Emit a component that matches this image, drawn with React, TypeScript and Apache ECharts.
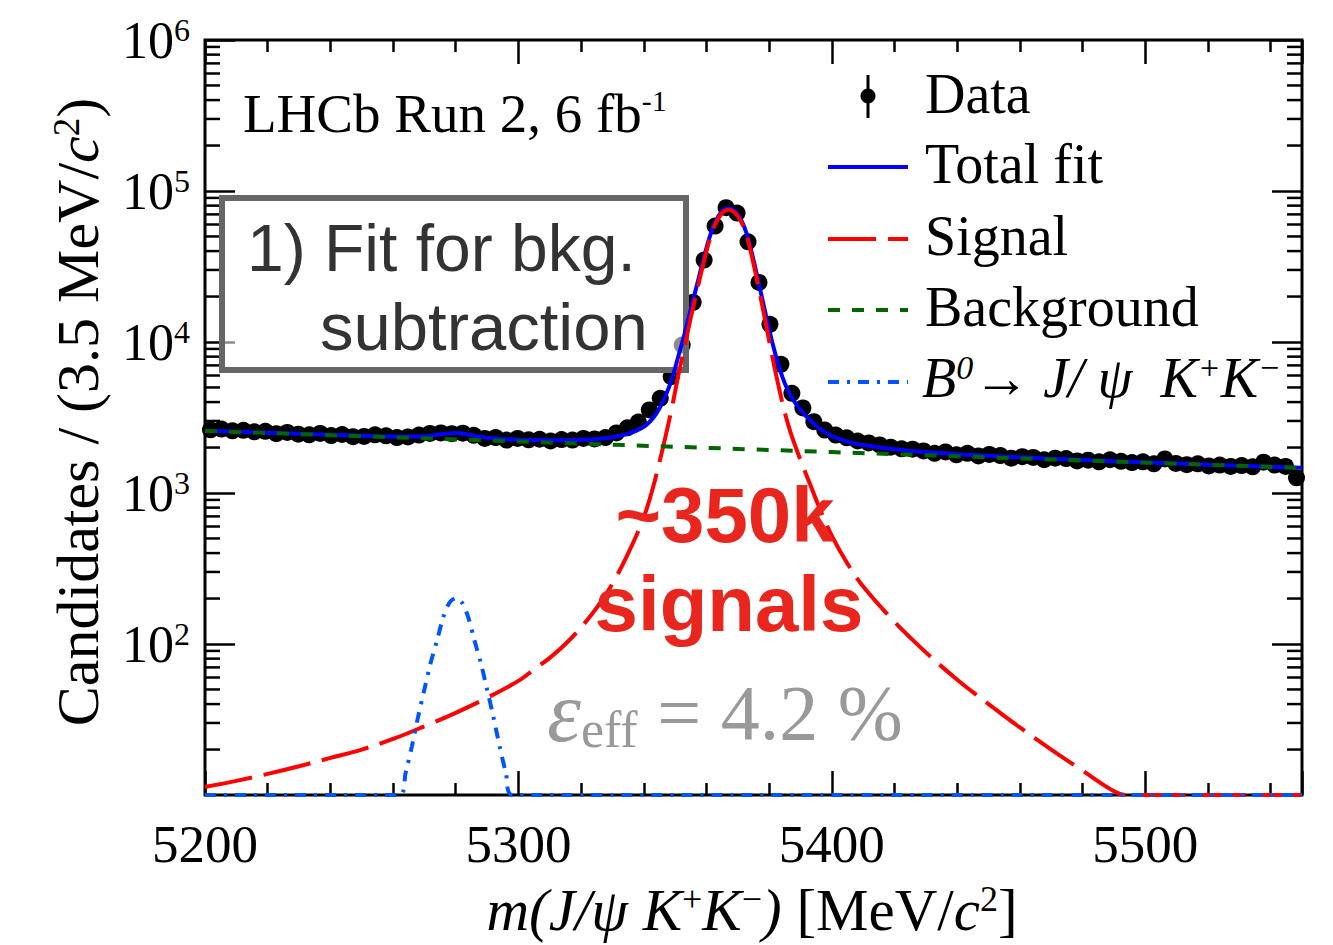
import React, { useEffect, useRef } from "react";
import * as echarts from "echarts";

// ---------- axis ranges / ticks ----------
const X_MIN = 5200;
const X_MAX = 5550;
const X_TICKS = [5200, 5300, 5400, 5500];
const Y_MIN = 10;
const Y_MAX = 1e6;
const Y_MINOR = [
  20, 30, 40, 50, 60, 70, 80, 90,
  200, 300, 400, 500, 600, 700, 800, 900,
  2000, 3000, 4000, 5000, 6000, 7000, 8000, 9000,
  20000, 30000, 40000, 50000, 60000, 70000, 80000, 90000,
  200000, 300000, 400000, 500000, 600000, 700000, 800000, 900000,
];

// ---------- data histogram (3.5 MeV bins from 5200) ----------
const BIN_LOW = 5200;
const BIN_WIDTH = 3.5;
const dataCounts = [
  2620, 2650, 2580, 2600, 2540, 2560, 2470, 2520, 2450, 2430,
  2480, 2400, 2440, 2360, 2370, 2430, 2390, 2330, 2350, 2420,
  2480, 2500, 2470, 2490, 2410, 2300, 2330, 2240, 2300, 2250,
  2270, 2210, 2260, 2240, 2300, 2280, 2330, 2500, 2700, 2950,
  3550, 4240, 5890, 9550, 18300, 34900, 58600, 77500, 71400, 46100,
  24800, 13100, 7110, 4570, 3660, 2966, 2612, 2420, 2320, 2210,
  2145, 2080, 2010, 1960, 1950, 1900, 1830, 1870, 1790, 1830,
  1760, 1800, 1770, 1700, 1740, 1720, 1660, 1700, 1690, 1630,
  1650, 1610, 1660, 1620, 1590, 1610, 1560, 1680, 1570, 1540,
  1560, 1510, 1530, 1500, 1520, 1490, 1600, 1530, 1500, 1260,
];

// ---------- fit curves (sampled) ----------
const totMass = [
  5200, 5210, 5220, 5230, 5240, 5250, 5260, 5264, 5268, 5272, 5276, 5280, 5284, 5288, 5292, 5296,
  5300, 5305, 5310, 5315, 5320, 5325, 5330, 5335, 5340, 5343, 5345, 5347, 5349, 5351, 5353, 5355,
  5357, 5359, 5361, 5363, 5365, 5367, 5369, 5371, 5373, 5375, 5377, 5379, 5381, 5383, 5385, 5387,
  5390, 5393, 5396, 5400, 5405, 5410, 5420, 5430, 5440, 5450, 5460, 5470, 5480, 5490, 5500, 5510,
  5520, 5530, 5540, 5550,
];
const totFit = [
  2587, 2547, 2509, 2471, 2433, 2397, 2363, 2364, 2370, 2399, 2462, 2501, 2439, 2353, 2303, 2272,
  2250, 2243, 2239, 2240, 2252, 2280, 2340, 2470, 2746, 3146, 3639, 4434, 5728, 8021, 11314, 16507,
  24000, 34994, 49488, 63481, 73475, 76968, 73962, 64956, 50950, 34943, 22937, 14931, 9925, 7019, 5312, 4356,
  3547, 3038, 2679, 2386, 2191, 2077, 1947, 1866, 1808, 1762, 1722, 1687, 1656, 1625, 1596, 1568,
  1541, 1516, 1490, 1467,
];

const sigMass = [
  5200, 5210, 5220, 5230, 5240, 5250, 5260, 5270, 5280, 5290, 5300, 5305, 5310, 5315, 5320, 5325,
  5330, 5335, 5340, 5343, 5345, 5347, 5349, 5351, 5353, 5355, 5357, 5359, 5361, 5363, 5365, 5367,
  5369, 5371, 5373, 5375, 5377, 5379, 5381, 5383, 5385, 5387, 5390, 5393, 5396, 5400, 5405, 5410,
  5420, 5430, 5440, 5450, 5460, 5470, 5480, 5490, 5494, 5550,
];
const sigFit = [
  11.3, 12.4, 13.8, 15.5, 17.6, 20, 23.5, 28.5, 35, 44, 57, 68, 81, 100, 129, 174,
  251, 398, 690, 1100, 1600, 2400, 3700, 6000, 9300, 14500, 22000, 33000, 47500, 61500, 71500, 75000,
  72000, 63000, 49000, 33000, 21000, 13000, 8000, 5100, 3400, 2450, 1650, 1150, 800, 520, 340, 240,
  140, 88, 58, 40, 28, 20, 14.5, 10.6, 10, 10,
];

const bkgMass = [5200, 5250, 5300, 5350, 5400, 5450, 5500, 5550];
const bkgFit = [2576, 2377, 2193, 2023, 1866, 1722, 1589, 1466];

const b0Mass = [
  5200, 5262, 5264, 5266, 5268, 5270, 5272, 5274, 5276, 5278, 5280,
  5282, 5284, 5286, 5288, 5290, 5292, 5294, 5296, 5298, 5550,
];
const b0Fit = [
  10, 10, 14, 21, 33, 50, 75, 105, 150, 188, 201,
  188, 150, 105, 75, 50, 33, 21, 14, 10, 10,
];

const SERIF = '"Liberation Serif", "Times New Roman", "DejaVu Serif", serif';
const SANS = '"Liberation Sans", Arial, Helvetica, sans-serif';

const zip = (xs: number[], ys: number[]) => xs.map((x, i) => [x, ys[i]]);

export default function App() {
  const ref = useRef<HTMLDivElement>(null);

  useEffect(() => {
    if (!ref.current) return;
    const chart = echarts.init(ref.current, undefined, { renderer: "svg" });

    const tickLine = { color: "#000", width: 2.5 };

    const option: any = {
      animation: false,
      backgroundColor: "#ffffff",
      grid: {
        left: 205,
        right: 31,
        top: 40,
        bottom: 150,
        show: true,
        borderColor: "#000",
        borderWidth: 3,
        backgroundColor: "transparent",
      },
      xAxis: [
        {
          type: "value",
          min: X_MIN,
          max: X_MAX,
          interval: 100,
          position: "bottom",
          axisLine: { show: false },
          splitLine: { show: false },
          axisTick: { show: true, inside: true, length: 24, lineStyle: tickLine },
          minorTick: { show: true, splitNumber: 5, length: 12, lineStyle: tickLine },
          axisLabel: {
            show: true,
            margin: 22,
            fontSize: 53,
            fontFamily: SERIF,
            color: "#000",
            showMaxLabel: false,
            formatter: (v: number) => (X_TICKS.includes(v) ? String(v) : ""),
          },
        },
        {
          type: "value",
          min: X_MIN,
          max: X_MAX,
          interval: 100,
          position: "top",
          axisLine: { show: false },
          splitLine: { show: false },
          axisTick: { show: true, inside: true, length: 24, lineStyle: tickLine },
          minorTick: { show: true, splitNumber: 5, length: 12, lineStyle: tickLine },
          axisLabel: { show: false },
        },
      ],
      yAxis: [
        {
          type: "log",
          logBase: 10,
          min: Y_MIN,
          max: Y_MAX,
          position: "left",
          axisLine: { show: false },
          splitLine: { show: false },
          axisTick: { show: true, inside: true, length: 30, lineStyle: tickLine },
          axisLabel: {
            show: true,
            margin: 15,
            showMinLabel: false,
            formatter: (v: number) => `{b|10}{s|${Math.round(Math.log10(v))}}`,
            rich: {
              b: { fontSize: 52, fontFamily: SERIF, color: "#000" },
              s: { fontSize: 32, fontFamily: SERIF, color: "#000", verticalAlign: "top" },
            },
          },
        },
        {
          type: "log",
          logBase: 10,
          min: Y_MIN,
          max: Y_MAX,
          position: "right",
          axisLine: { show: false },
          splitLine: { show: false },
          axisTick: { show: true, inside: true, length: 30, lineStyle: tickLine },
          axisLabel: { show: false },
        },
      ],
      series: [
        {
          name: "Data",
          type: "scatter",
          data: dataCounts.map((c, i) => [BIN_LOW + BIN_WIDTH * (i + 0.5), c]),
          symbol: "circle",
          symbolSize: 17,
          itemStyle: { color: "#000", opacity: 1 },
          z: 2,
          silent: true,
        },
        {
          name: "Total fit",
          type: "line",
          data: zip(totMass, totFit),
          showSymbol: false,
          smooth: 0.35,
          lineStyle: { color: "#0000ff", width: 4 },
          z: 4,
          silent: true,
        },
        {
          name: "Signal",
          type: "line",
          data: zip(sigMass, sigFit),
          showSymbol: false,
          smooth: 0.35,
          lineStyle: { color: "#ff0000", width: 4, type: [48, 12] },
          z: 5,
          silent: true,
        },
        {
          name: "Background",
          type: "line",
          data: zip(bkgMass, bkgFit),
          showSymbol: false,
          lineStyle: { color: "#006400", width: 4, type: [12, 12] },
          z: 6,
          silent: true,
        },
        {
          name: "B0",
          type: "line",
          data: zip(b0Mass, b0Fit),
          showSymbol: false,
          smooth: 0.3,
          lineStyle: { color: "#0055ff", width: 4, type: [11, 8, 3, 8] },
          z: 7,
          silent: true,
        },
        {
          name: "minor ticks",
          type: "custom",
          coordinateSystem: "cartesian2d",
          silent: true,
          z: 1,
          data: Y_MINOR.map((v) => [X_MIN, v]),
          renderItem: (_params: any, api: any) => {
            const v = api.value(1);
            const pL = api.coord([X_MIN, v]);
            const pR = api.coord([X_MAX, v]);
            return {
              type: "group",
              children: [
                {
                  type: "line",
                  shape: { x1: pL[0], y1: pL[1], x2: pL[0] + 15, y2: pL[1] },
                  style: { stroke: "#000", lineWidth: 2.5 },
                },
                {
                  type: "line",
                  shape: { x1: pR[0] - 15, y1: pR[1], x2: pR[0], y2: pR[1] },
                  style: { stroke: "#000", lineWidth: 2.5 },
                },
              ],
            };
          },
        },
      ],
      graphic: [
        // Box with fit description
        {
          type: "rect",
          z: 3,
          shape: { x: 222, y: 198, width: 464, height: 172 },
          style: { fill: "rgba(255,255,255,0.55)", stroke: "#666", lineWidth: 6 },
        },
        {
          type: "text",
          z: 3,
          x: 247,
          y: 248,
          style: { text: "1) Fit for bkg.", fontSize: 66, fontFamily: SANS, fill: "#333", verticalAlign: "middle" },
        },
        {
          type: "text",
          z: 3,
          x: 320,
          y: 326,
          style: { text: "subtraction", fontSize: 67, fontFamily: SANS, fill: "#333", verticalAlign: "middle" },
        },
        // LHCb label
        {
          type: "text",
          z: 10,
          x: 243,
          y: 113,
          style: {
            text: "{r|LHCb Run 2, 6 fb}{s|-1}",
            verticalAlign: "middle",
            rich: {
              r: { fontSize: 55, fontFamily: SERIF, fill: "#000" },
              s: { fontSize: 30, fontFamily: SERIF, fill: "#000", verticalAlign: "top" },
            },
          },
        },
        // big red text
        {
          type: "text",
          z: 10,
          x: 725,
          y: 515,
          style: { text: "~350k", fontSize: 78, fontWeight: "bold", fontFamily: SANS, fill: "#e8261e", align: "center", verticalAlign: "middle" },
        },
        {
          type: "text",
          z: 10,
          x: 729,
          y: 604,
          style: { text: "signals", fontSize: 78, fontWeight: "bold", fontFamily: SANS, fill: "#e8261e", align: "center", verticalAlign: "middle" },
        },
        // efficiency
        {
          type: "text",
          z: 10,
          x: 547,
          y: 712,
          style: {
            text: "{e|ε}{sub|eff}{r| = 4.2 %}",
            verticalAlign: "middle",
            rich: {
              e: { fontSize: 86, fontFamily: SERIF, fontStyle: "italic", fill: "#999" },
              sub: { fontSize: 52, fontFamily: SERIF, fill: "#999", verticalAlign: "bottom" },
              r: { fontSize: 78, fontFamily: SERIF, fill: "#999" },
            },
          },
        },
        // Legend
        { type: "line", z: 10, shape: { x1: 868, y1: 75, x2: 868, y2: 118 }, style: { stroke: "#000", lineWidth: 3 } },
        { type: "circle", z: 10, shape: { cx: 868, cy: 96, r: 7.5 }, style: { fill: "#000" } },
        { type: "line", z: 10, shape: { x1: 828, y1: 167, x2: 908, y2: 167 }, style: { stroke: "#0000ff", lineWidth: 4 } },
        { type: "line", z: 10, shape: { x1: 828, y1: 239, x2: 908, y2: 239 }, style: { stroke: "#ff0000", lineWidth: 4, lineDash: [48, 12] } },
        { type: "line", z: 10, shape: { x1: 828, y1: 310, x2: 908, y2: 310 }, style: { stroke: "#006400", lineWidth: 4, lineDash: [12, 12] } },
        { type: "line", z: 10, shape: { x1: 828, y1: 382, x2: 908, y2: 382 }, style: { stroke: "#0055ff", lineWidth: 4, lineDash: [11, 8, 3, 8] } },
        { type: "text", z: 10, x: 925, y: 94, style: { text: "Data", fontSize: 56, fontFamily: SERIF, fill: "#000", verticalAlign: "middle" } },
        { type: "text", z: 10, x: 925, y: 164, style: { text: "Total fit", fontSize: 56, fontFamily: SERIF, fill: "#000", verticalAlign: "middle" } },
        { type: "text", z: 10, x: 925, y: 236, style: { text: "Signal", fontSize: 56, fontFamily: SERIF, fill: "#000", verticalAlign: "middle" } },
        { type: "text", z: 10, x: 925, y: 307, style: { text: "Background", fontSize: 56, fontFamily: SERIF, fill: "#000", verticalAlign: "middle" } },
        {
          type: "text",
          z: 10,
          x: 922,
          y: 378,
          style: {
            text: "{i|B}{s|0}{r|→ }{i|J/ ψ  K}{s|+}{i|K}{s|−}",
            verticalAlign: "middle",
            rich: {
              i: { fontSize: 56, fontFamily: SERIF, fontStyle: "italic", fill: "#000" },
              r: { fontSize: 56, fontFamily: SERIF, fill: "#000" },
              s: { fontSize: 34, fontFamily: SERIF, fontStyle: "italic", fill: "#000", verticalAlign: "top" },
            },
          },
        },
        // Axis titles
        {
          type: "text",
          z: 10,
          x: 752,
          y: 910,
          style: {
            text: "{i|m(J/ψ K}{s|+}{i|K}{s|−}{i|)}{r| [MeV/}{i|c}{s|2}{r|]}",
            align: "center",
            verticalAlign: "middle",
            rich: {
              i: { fontSize: 59, fontFamily: SERIF, fontStyle: "italic", fill: "#000" },
              r: { fontSize: 59, fontFamily: SERIF, fill: "#000" },
              s: { fontSize: 36, fontFamily: SERIF, fill: "#000", verticalAlign: "top" },
            },
          },
        },
        {
          type: "text",
          z: 10,
          x: 78,
          y: 412,
          rotation: Math.PI / 2,
          style: {
            text: "{r|Candidates / (3.5 MeV/}{i|c}{s|2}{r|)}",
            align: "center",
            verticalAlign: "middle",
            rich: {
              i: { fontSize: 60, fontFamily: SERIF, fontStyle: "italic", fill: "#000" },
              r: { fontSize: 60, fontFamily: SERIF, fill: "#000" },
              s: { fontSize: 37, fontFamily: SERIF, fill: "#000", verticalAlign: "top" },
            },
          },
        },
      ],
    };

    chart.setOption(option);
    return () => {
      chart.dispose();
    };
  }, []);

  return (
    <div
      ref={ref}
      style={{ position: "absolute", left: 0, top: 0, width: 1333, height: 945, background: "#fff" }}
    />
  );
}
